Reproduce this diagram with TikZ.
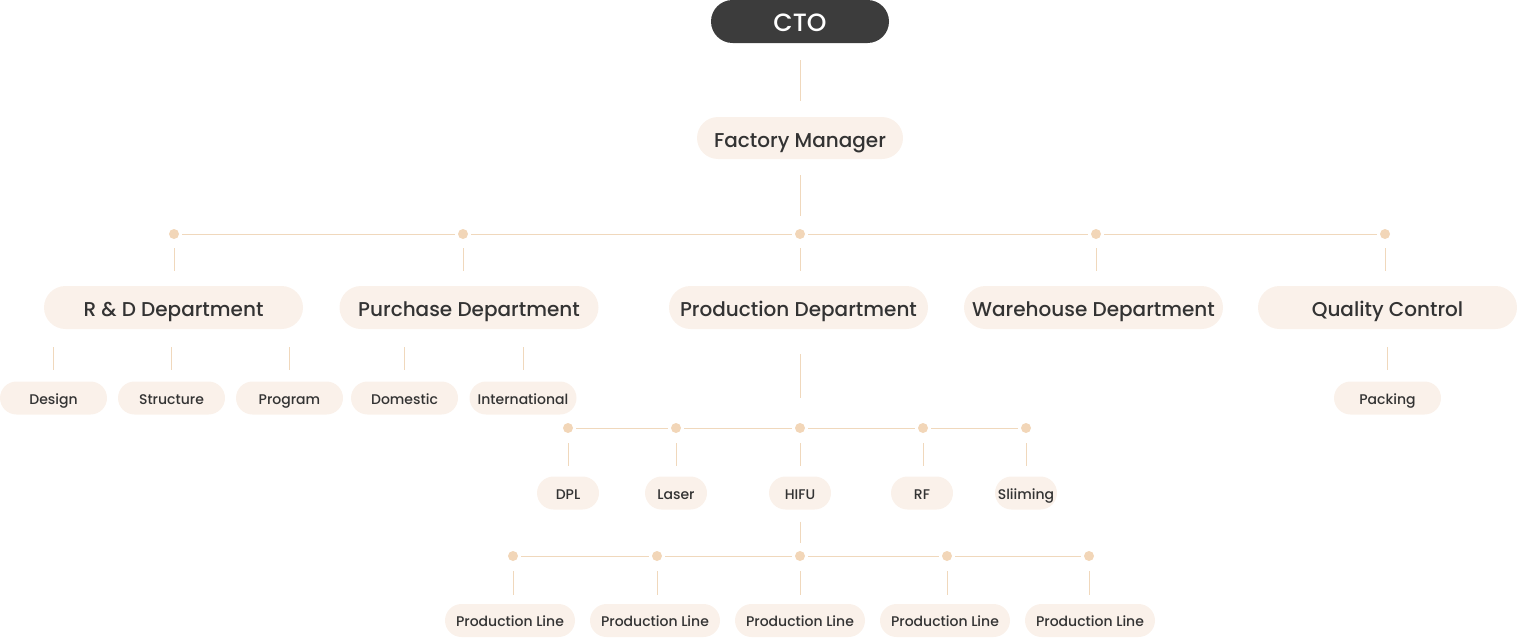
\documentclass[tikz,border=0pt]{standalone}
\usepackage{fontspec}
\setmainfont{Poppins}[UprightFont=* Medium]
\definecolor{boxfill}{HTML}{FAF1EA}
\definecolor{ctofill}{HTML}{3C3C3C}
\definecolor{txt}{HTML}{333333}
\definecolor{conn}{HTML}{F0D8BC}
\definecolor{dotc}{HTML}{F2D6B8}
\tikzset{
  pill/.style={rectangle, fill=boxfill, text=txt, inner sep=0pt, anchor=center, text depth=0pt},
  lvtwo/.style={pill, minimum width=259pt, minimum height=43pt, rounded corners=21.5pt, text height=18pt, font=\fontsize{20}{24}\selectfont},
  lvthree/.style={pill, minimum width=107pt, minimum height=33pt, rounded corners=16.5pt, text height=12pt, font=\fontsize{14}{17}\selectfont},
  lvfour/.style={lvthree, minimum width=62pt},
  lvfive/.style={lvthree, minimum width=130pt},
  jdot/.style={circle, fill=dotc, inner sep=0pt, minimum size=10pt},
  cline/.style={draw=conn, line width=1pt},
}
\begin{document}
\begin{tikzpicture}[x=1pt,y=-1pt]
\useasboundingbox (0,0) rectangle (1517,637);
% top
\node[rectangle, fill=ctofill, text=white, inner sep=0pt, minimum width=178pt, minimum height=43pt, rounded corners=21.5pt, text height=20pt, text depth=0pt, font=\fontsize{25}{30}\selectfont] (cto) at (800,21.5) {CTO};
\node[pill, minimum width=206pt, minimum height=42pt, rounded corners=21pt, text height=18pt, font=\fontsize{20}{24}\selectfont] (fm) at (800,138) {Factory Manager};
\draw[cline, shorten <=17pt, shorten >=16pt] (cto) -- (fm);
% dots level 1
\node[jdot] (d1) at (174,234) {};
\node[jdot] (d2) at (463,234) {};
\node[jdot] (d3) at (800,234) {};
\node[jdot] (d4) at (1096,234) {};
\node[jdot] (d5) at (1385,234) {};
\draw[cline, shorten <=16pt, shorten >=13pt] (fm.south) -- (d3.north);
\foreach \a/\b in {d1/d2,d2/d3,d3/d4,d4/d5} \draw[cline, shorten <=3pt, shorten >=3pt] (\a) -- (\b);
% level 2
\node[lvtwo] (rd) at (173.5,307.5) {R \& D Department};
\node[lvtwo] (pu) at (469,307.5) {Purchase Department};
\node[lvtwo] (pr) at (798.5,307.5) {Production Department};
\node[lvtwo] (wh) at (1093.5,307.5) {Warehouse Department};
\node[lvtwo] (qc) at (1387.5,307.5) {Quality Control};
\foreach \d/\b in {d1/rd,d2/pu,d3/pr,d4/wh,d5/qc} \draw[cline, shorten <=14pt, shorten >=15pt] (\d.center) -- (\d |- \b.north);
% level 3
\node[lvthree] (design) at (53.5,398) {Design};
\node[lvthree] (struct) at (171.5,398) {Structure};
\node[lvthree] (prog) at (289.5,398) {Program};
\node[lvthree] (dom) at (404.5,398) {Domestic};
\node[lvthree] (intl) at (523,398) {International};
\node[lvthree] (pack) at (1387.5,398) {Packing};
\foreach \p/\c in {rd/design,rd/struct,rd/prog,pu/dom,pu/intl,qc/pack} \draw[cline, shorten <=18pt, shorten >=11pt] (\p.south -| \c.north) -- (\c.north);
% production sub
\node[jdot] (e1) at (568,428) {};
\node[jdot] (e2) at (676,428) {};
\node[jdot] (e3) at (800,428) {};
\node[jdot] (e4) at (923,428) {};
\node[jdot] (e5) at (1026,428) {};
\draw[cline, shorten <=25pt, shorten >=30pt] (e3 |- pr.south) -- (e3.center);
\foreach \a/\b in {e1/e2,e2/e3,e3/e4,e4/e5} \draw[cline, shorten <=3pt, shorten >=3pt] (\a) -- (\b);
\node[lvfour] (dpl) at (568,493) {DPL};
\node[lvfour] (laser) at (676,493) {Laser};
\node[lvfour] (hifu) at (800,493) {HIFU};
\node[lvfour] (rf) at (922,493) {RF};
\node[lvfour] (sl) at (1026,493) {Sliiming};
\foreach \d/\b in {e1/dpl,e2/laser,e3/hifu,e4/rf,e5/sl} \draw[cline, shorten <=15pt, shorten >=10pt] (\d.center) -- (\d |- \b.north);
% HIFU sub
\node[jdot] (f1) at (513,556) {};
\node[jdot] (f2) at (657,556) {};
\node[jdot] (f3) at (800,556) {};
\node[jdot] (f4) at (947,556) {};
\node[jdot] (f5) at (1089,556) {};
\draw[cline, shorten <=12pt, shorten >=13pt] (hifu.south) -- (f3.center);
\foreach \a/\b in {f1/f2,f2/f3,f3/f4,f4/f5} \draw[cline, shorten <=3pt, shorten >=3pt] (\a) -- (\b);
\node[lvfive] (pl1) at (510,620.5) {Production Line};
\node[lvfive] (pl2) at (655,620.5) {Production Line};
\node[lvfive] (pl3) at (800,620.5) {Production Line};
\node[lvfive] (pl4) at (945,620.5) {Production Line};
\node[lvfive] (pl5) at (1090,620.5) {Production Line};
\foreach \d/\b in {f1/pl1,f2/pl2,f3/pl3,f4/pl4,f5/pl5} \draw[cline, shorten <=15pt, shorten >=9pt] (\d.center) -- (\d |- \b.north);
\end{tikzpicture}
\end{document}
